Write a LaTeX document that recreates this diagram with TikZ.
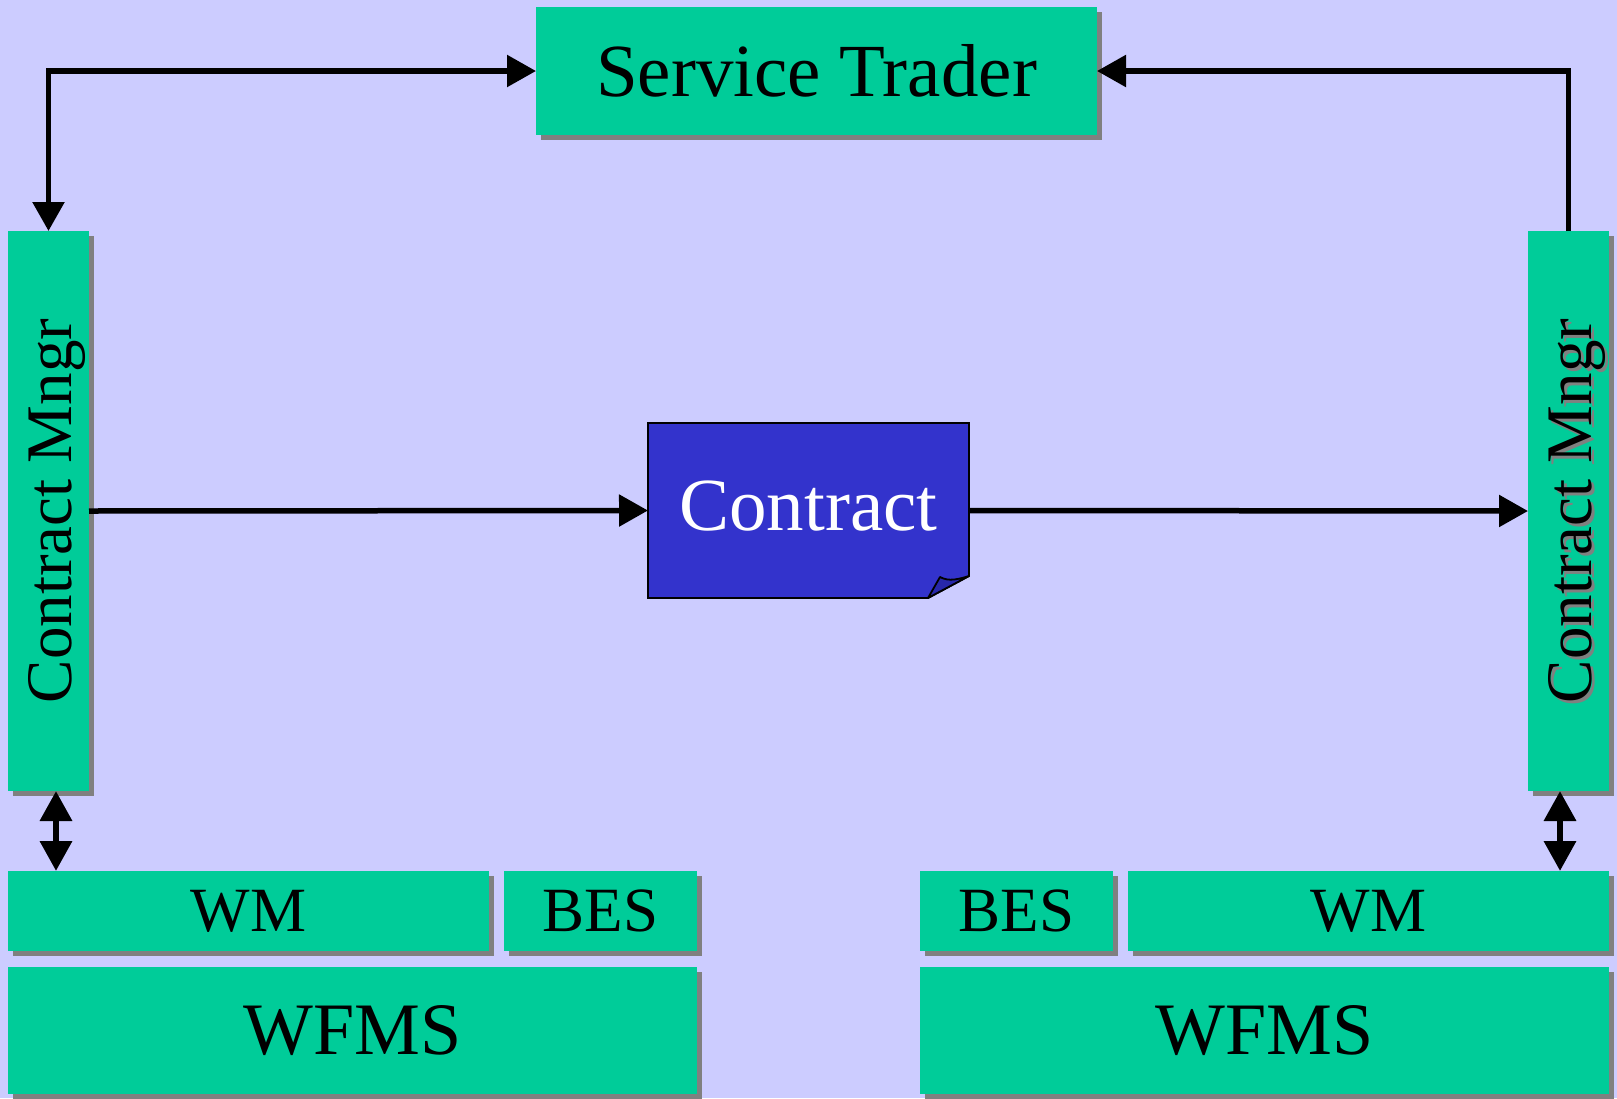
\documentclass[tikz,border=0pt]{standalone}
\usepackage{fontspec}
\setmainfont{Liberation Serif}
\usetikzlibrary{arrows.meta,shadows}
\definecolor{bg}{RGB}{204,204,255}
\definecolor{gbox}{RGB}{0,204,153}
\definecolor{shd}{RGB}{128,128,128}
\definecolor{cblue}{RGB}{51,51,204}
\definecolor{cflap}{RGB}{40,40,170}
\begin{document}
\begin{tikzpicture}[x=1pt,y=-1pt,
  box/.style={fill=gbox, inner sep=0pt, outer sep=0pt,
    drop shadow={shadow xshift=5pt,shadow yshift=-5pt,fill=shd,opacity=1}},
  conn/.style={line width=5.5pt, -{Triangle[length=29pt,width=31pt]}},
  dconn/.style={line width=6.5pt, {Triangle[length=30pt,width=31pt]}-{Triangle[length=30pt,width=31pt]}},
  bigtxt/.style={font=\fontsize{75}{80}\selectfont},
  midtxt/.style={font=\fontsize{63}{70}\selectfont},
  wftxt/.style={font=\fontsize{74}{80}\selectfont},
  cmtxt/.style={font=\fontsize{65}{70}\selectfont, rotate=90, anchor=base, inner sep=0pt}]
\useasboundingbox (0,0) rectangle (1617,1098);
\fill[bg] (0,0) rectangle (1617,1098);

% Service Trader
\node[box, bigtxt, minimum width=561pt, minimum height=128pt] (st) at (816.5,71) {Service Trader};

% Contract managers
\node[box, minimum width=81pt, minimum height=560pt] (cmL) at (48.5,511) {};
\node[box, minimum width=81pt, minimum height=560pt] (cmR) at (1568.5,511) {};
\node[cmtxt] (cmLt) at (71,511) {Contract Mngr};
\node[cmtxt, text=shd] (cmRs) at (1594,514) {Contract Mngr};
\node[cmtxt] (cmRt) at (1591,511) {Contract Mngr};

% Lower boxes, left
\node[box, midtxt, minimum width=481pt, minimum height=80pt] (wmL) at (248.5,911) {WM};
\node[box, midtxt, minimum width=193pt, minimum height=80pt] (besL) at (600.5,911) {BES};
\node[box, wftxt, minimum width=689pt, minimum height=127pt] (wfL) at (352.5,1030.5) {WFMS};

% Lower boxes, right
\node[box, midtxt, minimum width=193pt, minimum height=80pt] (besR) at (1016.5,911) {BES};
\node[box, midtxt, minimum width=481pt, minimum height=80pt] (wmR) at (1368.5,911) {WM};
\node[box, wftxt, minimum width=689pt, minimum height=127pt] (wfR) at (1264.5,1030.5) {WFMS};

% Contract (document with folded corner)
\node[inner sep=0pt, outer sep=0pt, minimum width=321pt, minimum height=175pt] (contract) at (808.5,510.5) {};
\draw[line width=1.8pt, fill=cblue, line join=miter]
  (contract.north west) -- (contract.north east)
  -- ([yshift=22pt]contract.south east)
  -- ([xshift=-41pt]contract.south east)
  -- (contract.south west) -- cycle;
\draw[line width=1.8pt, fill=cflap, line join=round]
  ([xshift=-41pt]contract.south east)
  -- ([xshift=-29pt,yshift=21pt]contract.south east)
  .. controls ([xshift=-20pt,yshift=16pt]contract.south east) and ([xshift=-10pt,yshift=19pt]contract.south east) ..
  ([yshift=22pt]contract.south east) -- cycle;
\node[bigtxt, text=white] (ctext) at (808.5,506) {Contract};

% Connectors
\draw[line width=5.5pt, {Triangle[length=29pt,width=31pt]}-{Triangle[length=29pt,width=31pt]}]
  (st.west) -| (cmL.north);
\draw[conn] (cmR.north) |- (st.east);
\draw[conn] (cmL.east) -- (contract.west);
\draw[conn] (contract.east) -- (cmR.west);

\coordinate (dL) at (56,791);
\coordinate (dR) at (1560,791);
\draw[dconn] (dL) -- (dL |- wmL.north);
\draw[dconn] (dR) -- (dR |- wmR.north);
\end{tikzpicture}
\end{document}
